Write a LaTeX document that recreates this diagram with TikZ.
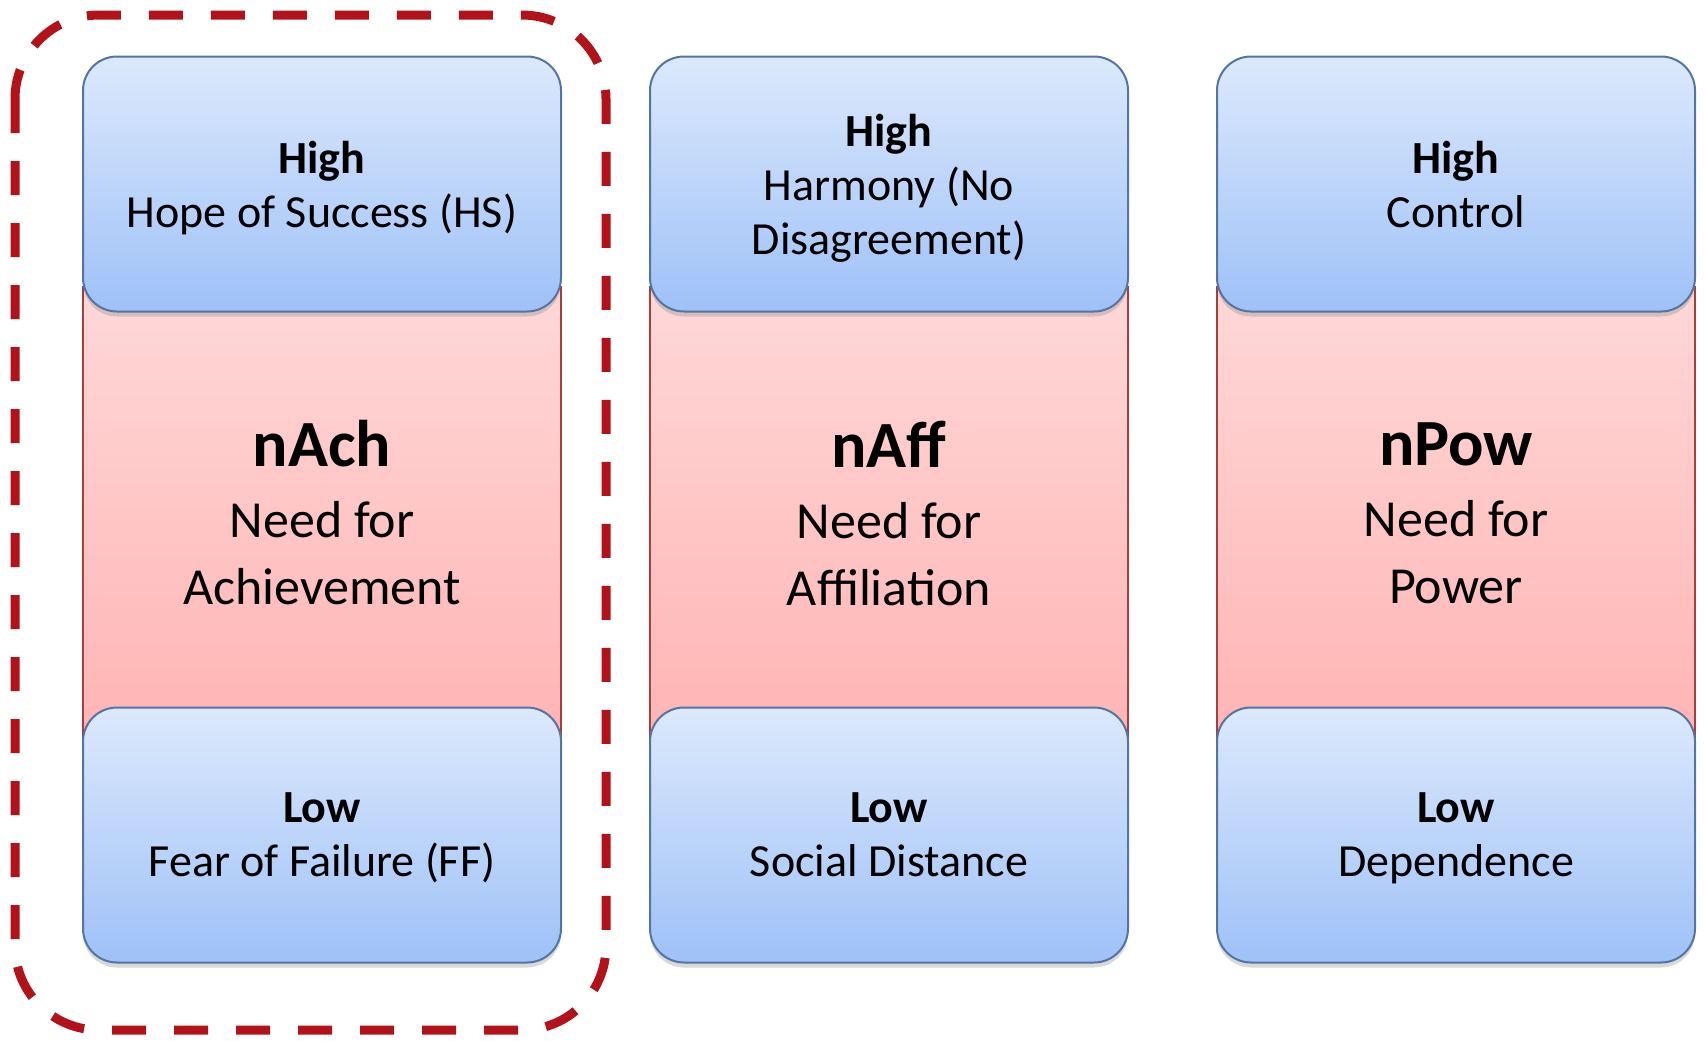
\documentclass[tikz,border=0pt]{standalone}
\usepackage{fontspec}
\setmainfont{Carlito}
\usepackage{xcolor}
\definecolor{lvltop}{RGB}{220,233,252}
\definecolor{lvlbot}{RGB}{158,193,247}
\definecolor{lvlline}{RGB}{84,116,164}
\definecolor{needtop}{RGB}{255,216,216}
\definecolor{needbot}{RGB}{255,180,180}
\definecolor{needline}{RGB}{170,62,60}
\definecolor{dashred}{RGB}{178,18,26}
\usetikzlibrary{shadows}

\begin{document}
\begin{tikzpicture}[x=0.5pt, y=-0.5pt,
	need/.style={rectangle, draw=needline, line width=1pt, top color=needtop, bottom color=needbot,
	             minimum width=239pt, minimum height=226pt, align=center, inner sep=0pt,
	             font=\fontsize{26}{33.5}\selectfont},
	level/.style={rectangle, rounded corners=17pt, draw=lvlline, line width=1pt,
	              top color=lvltop, bottom color=lvlbot, minimum width=239pt, minimum height=127.5pt,
	              align=center, text depth=0pt, font=\fontsize{23}{27}\selectfont,
	              drop shadow={shadow xshift=0pt, shadow yshift=-2.5pt, opacity=0.3}},
	grp/.style={draw=dashred, line width=4.5pt, dash pattern=on 17pt off 14pt, rounded corners=42pt}
	]
\useasboundingbox (0,0) rectangle (1704,1040);

% the three need columns
\node[need] (ach) at (322,513)
  {{\fontsize{33}{40}\selectfont\bfseries nAch}\\[2pt] Need for\\ Achievement};
\node[need] (aff) at (889,513)
  {{\fontsize{33}{40}\selectfont\bfseries nAff}\\[2pt] Need for\\ Affiliation};
\node[need] (pow) at (1456,513)
  {{\fontsize{33}{40}\selectfont\bfseries nPow}\\[2pt] Need for\\ Power};

% high / low ends on top of each column
\node[level] (hiAch) at (322,184) {\textbf{High}\\ Hope of Success (HS)};
\node[level] (loAch) at (322,835) {\textbf{Low}\\ Fear of Failure (FF)};
\node[level] (hiAff) at (889,184) {\textbf{High}\\ Harmony (No\\ Disagreement)};
\node[level] (loAff) at (889,835) {\textbf{Low}\\ Social Distance};
\node[level] (hiPow) at (1456,184) {\textbf{High}\\ Control};
\node[level] (loPow) at (1456,835) {\textbf{Low}\\ Dependence};

% highlight round nAch
\draw[grp] (15,15) rectangle (606,1030);
\end{tikzpicture}
\end{document}
